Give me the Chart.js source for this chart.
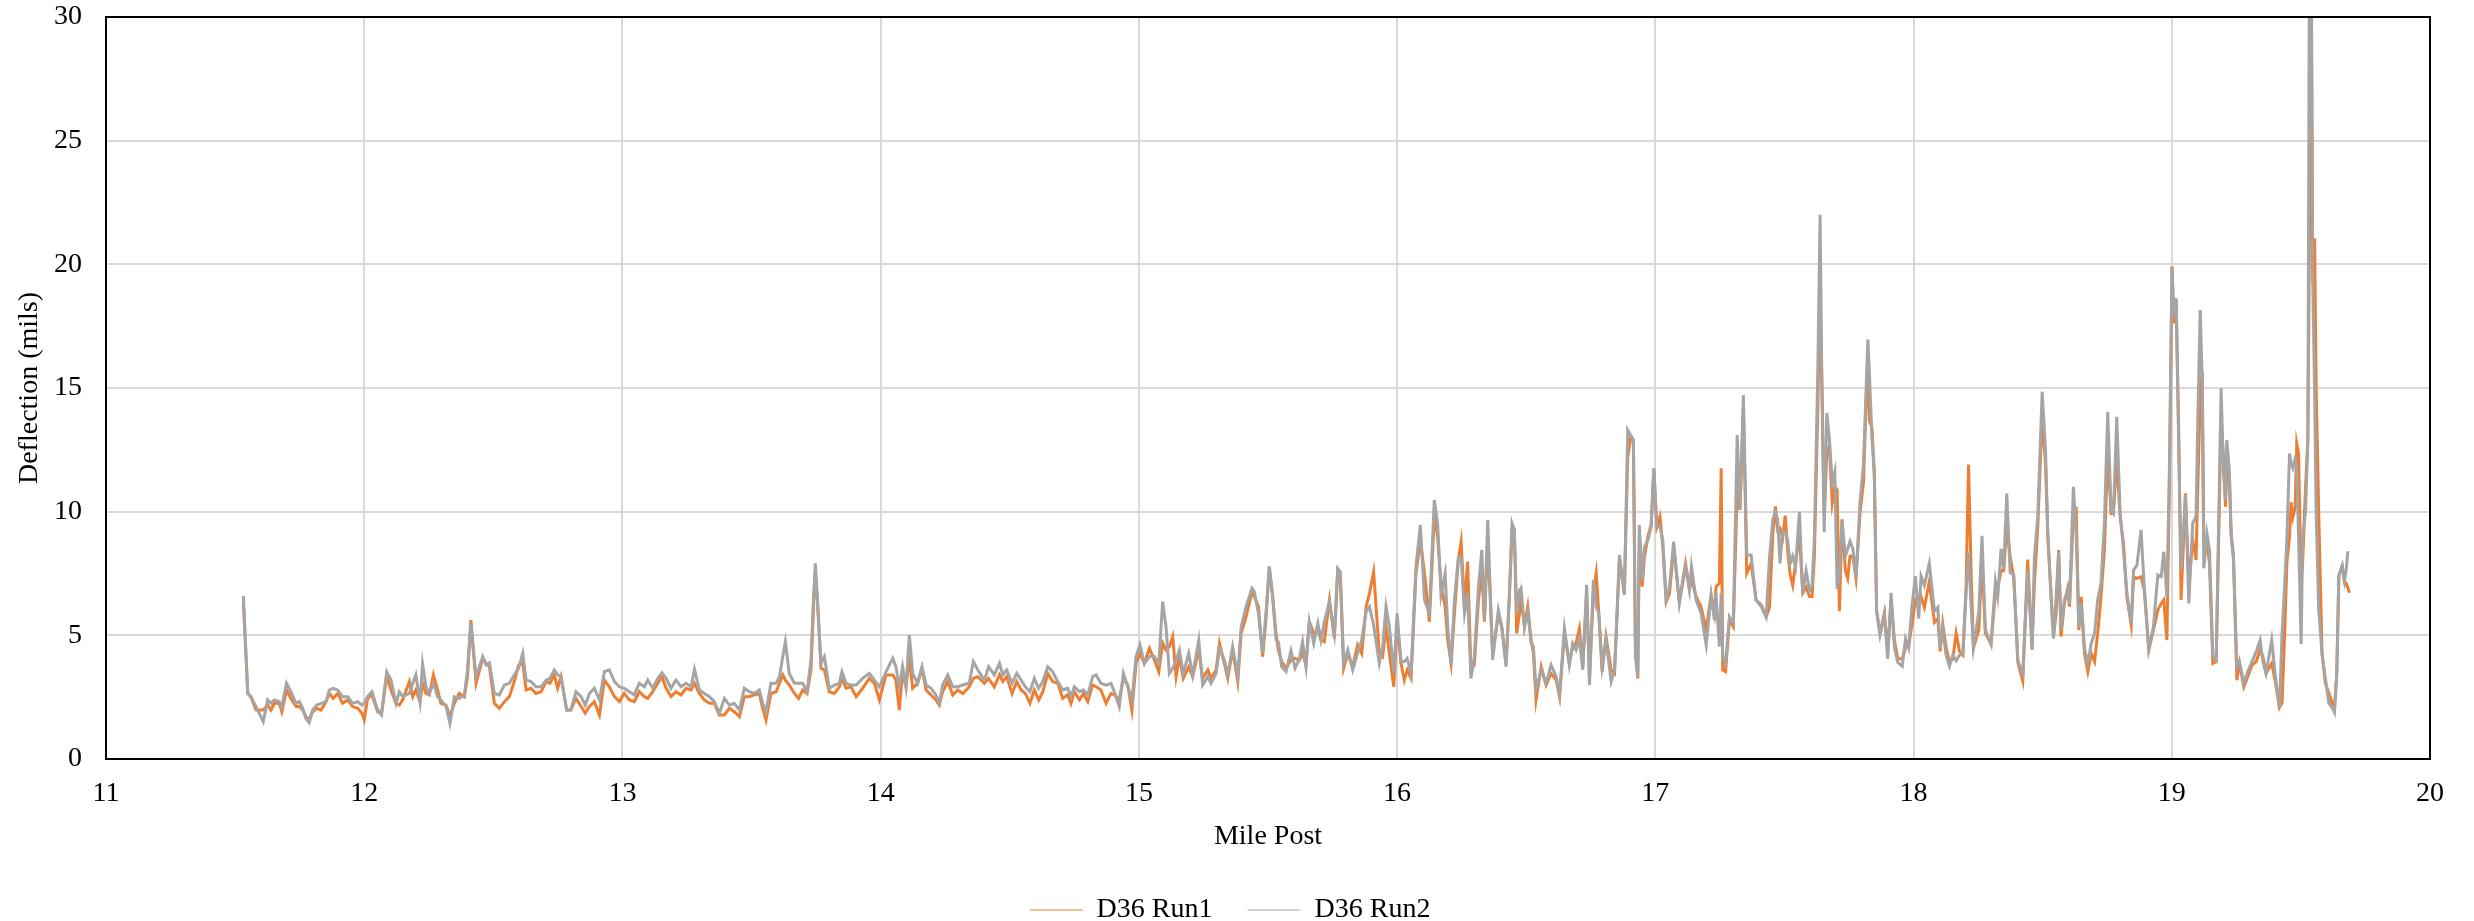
<!DOCTYPE html>
<html lang="en">

<head>
    <meta charset="utf-8" />
    <title>D36 Deflection</title>
    <script src="https://cdn.jsdelivr.net/npm/chart.js@4.4.1/dist/chart.umd.min.js"></script>
    <style>
        html,
        body {
            margin: 0;
            padding: 0;
            background: #fff;
        }

        #wrap {
            position: relative;
            width: 2474px;
            height: 921px;
        }
    </style>
</head>

<body>
    <div id="wrap">
        <canvas id="deflectionChart"></canvas>
    </div>

    <script>
        // Mile post of each reading (shared by both runs)
        const milePost = [
            11.532, 11.549, 11.561, 11.581, 11.609, 11.626, 11.639, 11.652, 11.671, 11.681, 11.699, 11.716, 11.736, 11.749, 11.762, 11.774, 11.787, 11.800, 11.816, 11.833, 11.852, 11.865, 11.880, 11.897, 11.916, 11.936, 11.955, 11.975, 11.991, 12.000, 12.013, 12.030, 12.052, 12.067, 12.087, 12.104, 12.123, 12.136, 12.149, 12.175, 12.188, 12.200, 12.216, 12.226, 12.239, 12.252, 12.268, 12.284, 12.297, 12.317, 12.332, 12.349, 12.368, 12.388, 12.400, 12.413, 12.433, 12.459,
            12.472, 12.485, 12.504, 12.523, 12.543, 12.562, 12.581, 12.598, 12.614, 12.627, 12.646, 12.665, 12.685, 12.704, 12.719, 12.736, 12.749, 12.762, 12.784, 12.800, 12.820, 12.840, 12.856, 12.872, 12.891, 12.911, 12.930, 12.949, 12.969, 12.988, 13.007, 13.027, 13.046, 13.065, 13.085, 13.098, 13.117, 13.137, 13.153, 13.169, 13.188, 13.207, 13.227, 13.246, 13.266, 13.279, 13.298, 13.317, 13.337, 13.356, 13.375, 13.395, 13.414, 13.433, 13.453,
            13.472, 13.491, 13.511, 13.530, 13.543, 13.556, 13.575, 13.595, 13.608, 13.621, 13.631, 13.646, 13.666, 13.682, 13.698, 13.715, 13.730, 13.739, 13.747, 13.756, 13.769, 13.782, 13.801, 13.821, 13.840, 13.850, 13.866, 13.885, 13.905, 13.930, 13.956, 13.976, 13.995, 14.021, 14.047, 14.059, 14.072, 14.085, 14.098, 14.111, 14.124, 14.143, 14.160, 14.176, 14.195, 14.214, 14.227, 14.240, 14.260, 14.279, 14.298, 14.318, 14.343, 14.359, 14.376, 14.402, 14.418, 14.440, 14.460,
            14.473, 14.488, 14.509, 14.527, 14.544, 14.560, 14.578, 14.595, 14.612, 14.628, 14.647, 14.666, 14.686, 14.705, 14.724, 14.737, 14.750, 14.770, 14.785, 14.802, 14.821, 14.834, 14.853, 14.873, 14.892, 14.905, 14.924, 14.940, 14.957, 14.973, 14.989, 15.004, 15.021, 15.041, 15.060, 15.077, 15.092, 15.105, 15.118, 15.131, 15.144, 15.157, 15.172, 15.193, 15.208, 15.232, 15.247, 15.267, 15.279, 15.299, 15.312, 15.331, 15.344, 15.363, 15.383, 15.396, 15.415, 15.438,
            15.447, 15.463, 15.479, 15.492, 15.505, 15.518, 15.531, 15.540, 15.553, 15.570, 15.589, 15.605, 15.622, 15.634, 15.647, 15.660, 15.677, 15.693, 15.705, 15.718, 15.738, 15.757, 15.770, 15.780, 15.793, 15.809, 15.828, 15.847, 15.863, 15.880, 15.893, 15.909, 15.931, 15.944, 15.957, 15.970, 15.987, 16.000, 16.015, 16.028, 16.039, 16.054, 16.073, 16.090, 16.106, 16.125, 16.144, 16.157, 16.170, 16.186, 16.196, 16.209, 16.222, 16.237, 16.248, 16.261, 16.273, 16.286, 16.299, 16.315, 16.328, 16.338, 16.351, 16.370, 16.392, 16.405, 16.422,
            16.435, 16.445, 16.454, 16.463, 16.474, 16.480, 16.493, 16.506, 16.519, 16.528, 16.538, 16.558, 16.577, 16.596, 16.616, 16.629, 16.648, 16.667, 16.680, 16.693, 16.706, 16.719, 16.734, 16.745, 16.760, 16.771, 16.781, 16.794, 16.809, 16.829, 16.842, 16.861, 16.880, 16.893, 16.904, 16.915, 16.923, 16.932, 16.938, 16.949, 16.958, 16.971, 16.984, 16.994, 17.006, 17.018, 17.029, 17.042, 17.055, 17.071, 17.093, 17.117, 17.132, 17.140, 17.158, 17.177, 17.197, 17.216, 17.229, 17.235, 17.248, 17.255, 17.261, 17.272, 17.287, 17.302, 17.317, 17.328, 17.341, 17.354, 17.371, 17.390, 17.410, 17.429,
            17.442, 17.455, 17.465, 17.474, 17.483, 17.493, 17.503, 17.513, 17.522, 17.532, 17.543, 17.558, 17.571, 17.584, 17.597, 17.607, 17.616, 17.629, 17.638, 17.646, 17.654, 17.664, 17.674, 17.685, 17.695, 17.704, 17.713, 17.723, 17.736, 17.745, 17.754, 17.765, 17.777, 17.793, 17.806, 17.823, 17.829, 17.839, 17.848, 17.857, 17.870, 17.887, 17.900, 17.913, 17.926, 17.939, 17.956, 17.969, 17.981, 17.994, 18.007, 18.020, 18.029, 18.042, 18.061, 18.081, 18.094, 18.103, 18.113, 18.126, 18.139, 18.152, 18.165, 18.178, 18.191, 18.203, 18.213, 18.223, 18.232, 18.253, 18.265, 18.278, 18.300, 18.317, 18.326, 18.339, 18.349, 18.361, 18.374, 18.388, 18.404, 18.423, 18.442,
            18.459, 18.468, 18.481, 18.498, 18.511, 18.520, 18.533, 18.542, 18.552, 18.562, 18.571, 18.584, 18.597, 18.604, 18.619, 18.630, 18.640, 18.649, 18.662, 18.675, 18.688, 18.701, 18.713, 18.726, 18.739, 18.752, 18.765, 18.774, 18.787, 18.800, 18.813, 18.826, 18.843, 18.852, 18.865, 18.881, 18.894, 18.911, 18.929, 18.946, 18.959, 18.969, 18.981, 18.991, 19.001, 19.008, 19.017, 19.027, 19.036, 19.053, 19.066, 19.081, 19.094, 19.101, 19.110, 19.118, 19.124, 19.136, 19.146, 19.159, 19.172, 19.182, 19.191, 19.200, 19.208, 19.213, 19.223, 19.230, 19.239, 19.252, 19.262, 19.279, 19.294, 19.311, 19.327, 19.342, 19.353, 19.365, 19.387, 19.400,
            19.417, 19.427, 19.437, 19.446, 19.456, 19.462, 19.469, 19.478, 19.484, 19.491, 19.501, 19.507, 19.518, 19.527, 19.533, 19.540, 19.546, 19.553, 19.559, 19.569, 19.582, 19.595, 19.608, 19.621, 19.630, 19.639, 19.647, 19.660, 19.669, 19.675, 19.682, 19.688
        ];

        // D36 deflection, first run (mils)
        const run1Deflection = [
            6.36, 2.65, 2.52, 1.98, 1.98, 2.18, 1.98, 2.25, 2.25, 1.91, 2.79, 2.45, 2.12, 2.12, 1.98, 1.71, 1.58, 1.91, 2.05, 1.98, 2.32, 2.65, 2.45, 2.65, 2.25, 2.39, 2.12, 2.05, 1.85, 1.58, 2.45, 2.59, 1.91, 1.85, 3.33, 2.79, 2.25, 2.18, 2.39, 3.13, 2.52, 2.79, 2.32, 3.06, 2.65, 2.59, 3.40, 2.79, 2.25, 2.18, 1.71, 2.25, 2.65, 2.52, 3.33, 5.62, 3.06, 4.07,
            3.87, 3.73, 2.25, 2.05, 2.32, 2.52, 3.13, 3.80, 3.87, 2.79, 2.86, 2.65, 2.72, 3.13, 3.06, 3.40, 2.86, 3.33, 1.98, 1.98, 2.45, 2.12, 1.85, 2.12, 2.32, 1.78, 3.19, 2.92, 2.52, 2.32, 2.65, 2.39, 2.32, 2.72, 2.52, 2.45, 2.72, 3.06, 3.33, 2.86, 2.52, 2.72, 2.59, 2.86, 2.79, 3.06, 2.65, 2.39, 2.25, 2.25, 1.78, 1.78, 2.05, 1.91, 1.71,
            2.52, 2.52, 2.59, 2.65, 2.05, 1.58, 2.65, 2.72, 3.06, 3.40, 3.19, 2.99, 2.65, 2.45, 2.79, 2.65, 3.60, 5.89, 7.64, 6.29, 3.67, 3.60, 2.72, 2.65, 2.92, 3.26, 2.86, 2.92, 2.52, 2.86, 3.26, 3.06, 2.39, 3.40, 3.40, 3.19, 1.98, 3.53, 2.92, 4.07, 2.86, 3.06, 3.67, 2.79, 2.59, 2.39, 2.18, 2.72, 3.13, 2.59, 2.79, 2.65, 2.92, 3.26, 3.33, 3.06, 3.26, 2.92, 3.40,
            3.13, 3.33, 2.65, 3.13, 2.79, 2.65, 2.25, 2.79, 2.39, 2.72, 3.46, 3.13, 3.06, 2.45, 2.59, 2.25, 2.72, 2.39, 2.65, 2.32, 2.99, 2.92, 2.79, 2.25, 2.65, 2.59, 2.39, 3.26, 2.99, 1.98, 3.87, 4.27, 3.87, 4.47, 4.00, 3.53, 4.68, 4.41, 4.54, 4.95, 3.33, 4.14, 3.26, 3.73, 3.33, 4.41, 3.26, 3.60, 3.26, 3.60, 4.68, 3.87, 3.26, 4.41, 3.13, 5.08, 5.75, 6.77,
            6.56, 6.16, 4.14, 5.62, 7.78, 6.56, 5.08, 4.41, 3.94, 3.67, 4.00, 4.07, 4.00, 4.27, 3.80, 5.55, 5.08, 5.22, 4.81, 4.74, 6.43, 4.88, 7.57, 7.37, 3.67, 4.27, 3.73, 4.61, 4.27, 6.16, 6.70, 7.57, 4.27, 4.14, 5.35, 4.27, 2.92, 5.49, 3.87, 3.19, 3.60, 3.26, 7.51, 8.85, 7.51, 5.55, 9.80, 8.99, 7.04, 6.16, 4.81, 3.87, 5.89, 8.05, 8.79, 6.16, 7.98, 3.60, 3.80, 6.43, 7.64, 5.55, 8.85, 4.27, 5.82, 5.35, 3.87,
            6.70, 9.26, 9.26, 5.08, 5.89, 6.56, 5.35, 6.16, 4.81, 4.27, 2.39, 3.73, 2.99, 3.46, 3.19, 2.52, 5.08, 3.87, 4.54, 4.68, 5.28, 3.73, 6.70, 3.33, 6.70, 7.51, 5.89, 3.53, 4.95, 3.60, 3.46, 8.05, 6.70, 12.22, 12.96, 12.90, 4.54, 3.26, 8.99, 6.97, 8.18, 8.99, 9.46, 11.75, 9.39, 9.80, 8.58, 6.36, 6.70, 8.58, 6.36, 7.91, 6.90, 7.24, 6.56, 6.16, 5.22, 6.63, 5.89, 6.97, 7.10, 11.75, 3.60, 3.53, 5.62, 5.35, 10.88, 10.07, 14.25, 7.51, 7.91, 6.43, 6.23, 5.75,
            6.13, 9.09, 10.21, 9.24, 9.32, 8.95, 9.84, 8.35, 7.46, 7.02, 7.91, 9.09, 6.72, 6.94, 6.57, 6.57, 8.20, 14.14, 18.74, 14.73, 9.84, 12.36, 12.66, 10.36, 11.02, 10.88, 5.98, 9.69, 7.61, 7.31, 8.20, 8.20, 7.31, 9.99, 11.17, 16.51, 13.69, 13.40, 11.47, 5.98, 5.09, 5.91, 4.35, 6.42, 4.79, 4.05, 4.05, 4.50, 4.57, 5.46, 6.42, 6.20, 6.57, 6.13, 7.17, 5.53, 5.68, 4.35, 5.46, 4.50, 3.90, 4.05, 5.09, 4.35, 4.20, 6.72, 11.91, 7.46, 4.50, 5.24, 8.20, 5.09, 4.64, 6.72, 6.94, 7.61, 7.61, 9.39, 8.20, 7.31, 3.90, 3.16, 8.06,
            4.54, 7.10, 9.39, 13.84, 11.95, 8.99, 6.56, 4.95, 5.89, 8.45, 4.95, 6.29, 6.90, 6.16, 9.93, 10.07, 5.22, 6.56, 4.27, 3.53, 4.27, 3.94, 5.08, 6.56, 8.45, 12.43, 9.93, 9.93, 12.16, 9.80, 8.72, 6.56, 5.42, 7.37, 7.30, 7.37, 6.83, 4.41, 5.22, 6.02, 6.29, 6.43, 4.81, 11.15, 19.91, 17.61, 18.56, 13.17, 6.43, 10.74, 7.10, 8.85, 8.05, 11.15, 14.51, 15.66, 8.72, 8.72, 7.91, 3.87, 3.94, 9.12, 13.84, 12.22, 10.20, 11.82, 11.28, 9.12, 8.18, 3.19, 3.87, 2.92, 3.33, 3.80, 3.94, 4.41, 4.14, 3.46, 3.87, 3.19,
            2.08, 2.27, 5.04, 8.00, 8.99, 10.38, 9.78, 10.18, 12.75, 12.35, 7.02, 8.00, 10.97, 12.94, 20.85, 31.00, 19.27, 21.05, 15.00, 9.98, 4.25, 3.06, 2.67, 2.27, 2.08, 3.46, 7.41, 7.81, 7.11, 7.11, 6.92, 6.72
        ];

        // D36 deflection, second run (mils)
        const run2Deflection = [
            6.59, 2.65, 2.52, 2.12, 1.51, 2.39, 2.25, 2.39, 2.32, 2.12, 3.06, 2.72, 2.25, 2.32, 2.05, 1.64, 1.47, 1.98, 2.18, 2.25, 2.32, 2.79, 2.86, 2.79, 2.52, 2.52, 2.25, 2.32, 2.18, 2.25, 2.52, 2.72, 1.98, 1.78, 3.53, 3.19, 2.25, 2.72, 2.52, 2.65, 3.06, 3.40, 2.32, 3.84, 2.92, 2.65, 3.06, 2.52, 2.39, 2.12, 1.44, 2.52, 2.45, 2.59, 3.60, 5.49, 3.33, 4.14,
            3.80, 3.89, 2.65, 2.59, 2.99, 3.06, 3.40, 3.67, 4.27, 3.19, 3.13, 2.92, 2.92, 3.19, 3.26, 3.60, 3.40, 3.33, 1.98, 1.98, 2.72, 2.52, 2.18, 2.65, 2.86, 2.39, 3.53, 3.60, 3.13, 2.92, 2.86, 2.72, 2.59, 3.06, 2.92, 3.19, 2.86, 3.26, 3.49, 3.26, 2.86, 3.19, 2.92, 3.06, 2.92, 3.63, 2.79, 2.65, 2.52, 2.32, 1.85, 2.45, 2.18, 2.25, 1.98,
            2.86, 2.72, 2.65, 2.79, 2.25, 1.91, 3.06, 3.06, 3.33, 4.14, 4.74, 3.46, 3.06, 3.06, 3.06, 2.72, 4.00, 6.29, 7.91, 6.16, 3.87, 4.14, 2.86, 2.99, 3.06, 3.53, 3.06, 2.99, 2.99, 3.26, 3.46, 3.19, 2.92, 3.53, 4.07, 3.73, 2.92, 3.73, 2.92, 5.01, 3.46, 3.06, 3.73, 2.99, 2.86, 2.59, 2.25, 2.99, 3.40, 2.92, 2.92, 2.99, 3.06, 3.94, 3.60, 3.19, 3.73, 3.40, 3.87,
            3.40, 3.60, 3.06, 3.46, 3.19, 2.92, 2.72, 3.26, 2.86, 3.13, 3.73, 3.53, 3.13, 2.79, 2.86, 2.52, 2.92, 2.72, 2.79, 2.59, 3.33, 3.40, 3.06, 2.99, 3.06, 2.72, 2.12, 3.46, 2.92, 2.39, 4.14, 4.61, 3.87, 4.14, 4.14, 3.87, 6.36, 5.35, 3.46, 3.67, 4.00, 4.41, 3.46, 4.27, 3.40, 4.81, 2.99, 3.33, 3.06, 3.46, 4.47, 4.00, 3.40, 4.54, 3.33, 5.35, 6.16, 6.90,
            6.77, 5.89, 4.27, 5.89, 7.78, 6.56, 4.81, 4.74, 3.73, 3.53, 4.38, 3.67, 4.07, 4.74, 3.73, 5.55, 4.68, 5.49, 4.81, 5.55, 6.36, 5.08, 7.71, 7.57, 3.87, 4.41, 3.60, 4.27, 4.81, 5.96, 6.16, 5.42, 3.87, 4.54, 6.16, 5.35, 3.46, 5.89, 3.94, 3.94, 4.07, 3.46, 7.78, 9.46, 6.43, 5.89, 10.47, 9.53, 6.63, 7.51, 5.35, 3.80, 6.43, 8.11, 8.18, 5.89, 6.70, 3.26, 4.14, 6.97, 8.45, 5.62, 9.66, 4.00, 6.02, 5.35, 3.73,
            6.56, 9.53, 9.26, 5.89, 6.83, 6.90, 5.35, 5.96, 4.68, 4.54, 2.79, 3.60, 3.06, 3.80, 3.33, 2.59, 5.28, 3.80, 4.68, 4.41, 4.88, 3.60, 7.04, 2.99, 7.24, 6.16, 5.89, 3.73, 4.81, 3.13, 3.60, 8.25, 6.63, 13.30, 13.10, 12.90, 4.14, 3.33, 9.46, 7.24, 8.58, 8.85, 9.39, 11.75, 9.39, 9.39, 8.85, 6.43, 6.97, 8.79, 6.29, 7.78, 6.83, 7.78, 6.43, 5.89, 4.61, 6.63, 5.62, 6.70, 4.54, 6.70, 4.14, 3.87, 5.75, 5.49, 13.10, 10.07, 14.72, 8.25, 8.25, 6.43, 6.16, 5.75,
            8.13, 9.69, 9.99, 9.69, 7.91, 9.24, 9.17, 8.80, 7.91, 8.20, 7.76, 9.99, 6.65, 7.61, 6.80, 7.02, 8.95, 15.62, 22.00, 14.14, 9.17, 13.99, 12.95, 11.17, 11.62, 6.87, 7.46, 9.61, 8.20, 8.50, 8.80, 8.50, 7.31, 10.43, 11.91, 16.96, 15.62, 12.95, 11.62, 5.98, 5.01, 5.83, 4.05, 6.72, 4.50, 3.90, 3.75, 4.87, 4.50, 6.20, 7.39, 5.68, 7.39, 7.02, 7.91, 5.98, 6.13, 4.50, 5.24, 4.20, 3.75, 4.20, 3.98, 4.20, 4.27, 6.72, 8.35, 6.13, 4.50, 5.98, 9.02, 5.24, 4.64, 7.17, 6.57, 8.50, 7.69, 10.73, 7.54, 7.46, 3.98, 3.46, 7.61,
            4.41, 8.18, 9.80, 14.85, 12.49, 9.12, 6.43, 4.88, 6.56, 8.38, 5.22, 6.43, 6.83, 6.29, 11.01, 8.99, 5.35, 6.29, 4.47, 3.87, 4.68, 5.08, 6.43, 7.10, 9.53, 14.04, 10.07, 9.93, 13.84, 9.93, 8.45, 6.70, 5.49, 7.64, 7.84, 9.26, 6.83, 4.47, 5.35, 7.44, 7.37, 8.38, 6.56, 11.82, 19.91, 17.88, 18.63, 12.49, 7.64, 10.67, 6.29, 9.53, 9.80, 13.84, 18.15, 15.19, 7.71, 9.12, 8.45, 4.20, 4.00, 9.80, 14.99, 11.68, 10.47, 12.90, 11.68, 8.99, 8.05, 3.73, 3.94, 3.06, 3.53, 3.94, 4.34, 4.81, 3.94, 3.46, 4.81, 3.46,
            2.08, 5.04, 7.02, 8.99, 12.35, 11.96, 11.76, 12.15, 11.76, 8.99, 4.64, 8.99, 9.98, 12.94, 33.00, 33.00, 19.27, 14.92, 9.98, 6.03, 4.25, 3.26, 2.27, 2.08, 1.88, 3.46, 7.41, 7.81, 7.21, 7.61, 8.40, null
        ];

        const mileTicks = [11, 12, 13, 14, 15, 16, 17, 18, 19, 20];
        const deflectionTicks = [0, 5, 10, 15, 20, 25, 30];

        const seriesNames = ['D36 Run1', 'D36 Run2'];

        const FONT = "'Liberation Serif', 'Times New Roman', serif";
        Chart.defaults.font.family = FONT;
        Chart.defaults.color = '#000';

        const toPoints = values => milePost.map((x, i) => ({ x, y: values[i] }));

        // black box round the plot area
        const plotFrame = {
            id: 'plotFrame',
            afterDraw(chart) {
                const { ctx, chartArea: a } = chart;
                ctx.save();
                ctx.strokeStyle = '#000';
                ctx.lineWidth = 2;
                ctx.strokeRect(a.left, a.top, a.right - a.left, a.bottom - a.top);
                ctx.restore();
            }
        };

        const ctx = document.getElementById('deflectionChart').getContext('2d');

        new Chart(ctx, {
            type: 'line',
            data: {
                datasets: [
                    {
                        label: seriesNames[0],
                        data: toPoints(run1Deflection),
                        borderColor: '#ED7D31',
                        backgroundColor: '#ED7D31',
                        order: 1
                    },
                    {
                        label: seriesNames[1],
                        data: toPoints(run2Deflection),
                        borderColor: '#A5A5A5',
                        backgroundColor: '#A5A5A5',
                        order: 0
                    }
                ]
            },
            options: {
                responsive: true,
                maintainAspectRatio: false,
                animation: false,
                layout: {
                    padding: { top: 17, right: 14, bottom: -13, left: 0 }
                },
                elements: {
                    point: { radius: 0 },
                    line: { borderWidth: 3, tension: 0 }
                },
                scales: {
                    x: {
                        type: 'linear',
                        min: mileTicks[0],
                        max: mileTicks[mileTicks.length - 1],
                        afterBuildTicks: scale => {
                            scale.ticks = mileTicks.map(value => ({ value }));
                        },
                        afterFit: scale => {
                            scale.height = 102;
                        },
                        grid: { color: '#D9D9D9', lineWidth: 2, drawTicks: false },
                        border: { color: '#000', width: 2 },
                        ticks: { padding: 18, font: { size: 28 }, color: '#000' },
                        title: {
                            display: true,
                            text: 'Mile Post',
                            font: { size: 28 },
                            color: '#000',
                            padding: { top: 8, bottom: 8 }
                        }
                    },
                    y: {
                        min: deflectionTicks[0],
                        max: deflectionTicks[deflectionTicks.length - 1],
                        afterBuildTicks: scale => {
                            scale.ticks = deflectionTicks.map(value => ({ value }));
                        },
                        afterFit: scale => {
                            scale.width = 106;
                        },
                        grid: {
                            color: '#D9D9D9',
                            lineWidth: 2,
                            drawTicks: true,
                            tickLength: 24,
                            tickColor: 'rgba(0,0,0,0)'
                        },
                        border: { color: '#000', width: 2 },
                        ticks: { padding: 0, font: { size: 28 }, color: '#000' },
                        title: {
                            display: true,
                            text: 'Deflection (mils)',
                            font: { size: 28 },
                            color: '#000',
                            padding: { top: 13, bottom: 13 }
                        }
                    },
                    // empty right-hand strip so the legend centres under the page
                    spacer: {
                        position: 'right',
                        display: true,
                        grid: { display: false, drawTicks: false },
                        border: { display: false },
                        ticks: { display: false },
                        afterFit: scale => {
                            scale.width = 30;
                        }
                    }
                },
                plugins: {
                    legend: {
                        position: 'bottom',
                        labels: {
                            usePointStyle: true,
                            pointStyle: 'line',
                            pointStyleWidth: 53,
                            boxHeight: 28,
                            padding: 35,
                            font: { size: 28 },
                            color: '#000',
                            sort: (a, b) => a.datasetIndex - b.datasetIndex
                        }
                    },
                    tooltip: { enabled: false }
                }
            },
            plugins: [plotFrame]
        });
    </script>
</body>

</html>
